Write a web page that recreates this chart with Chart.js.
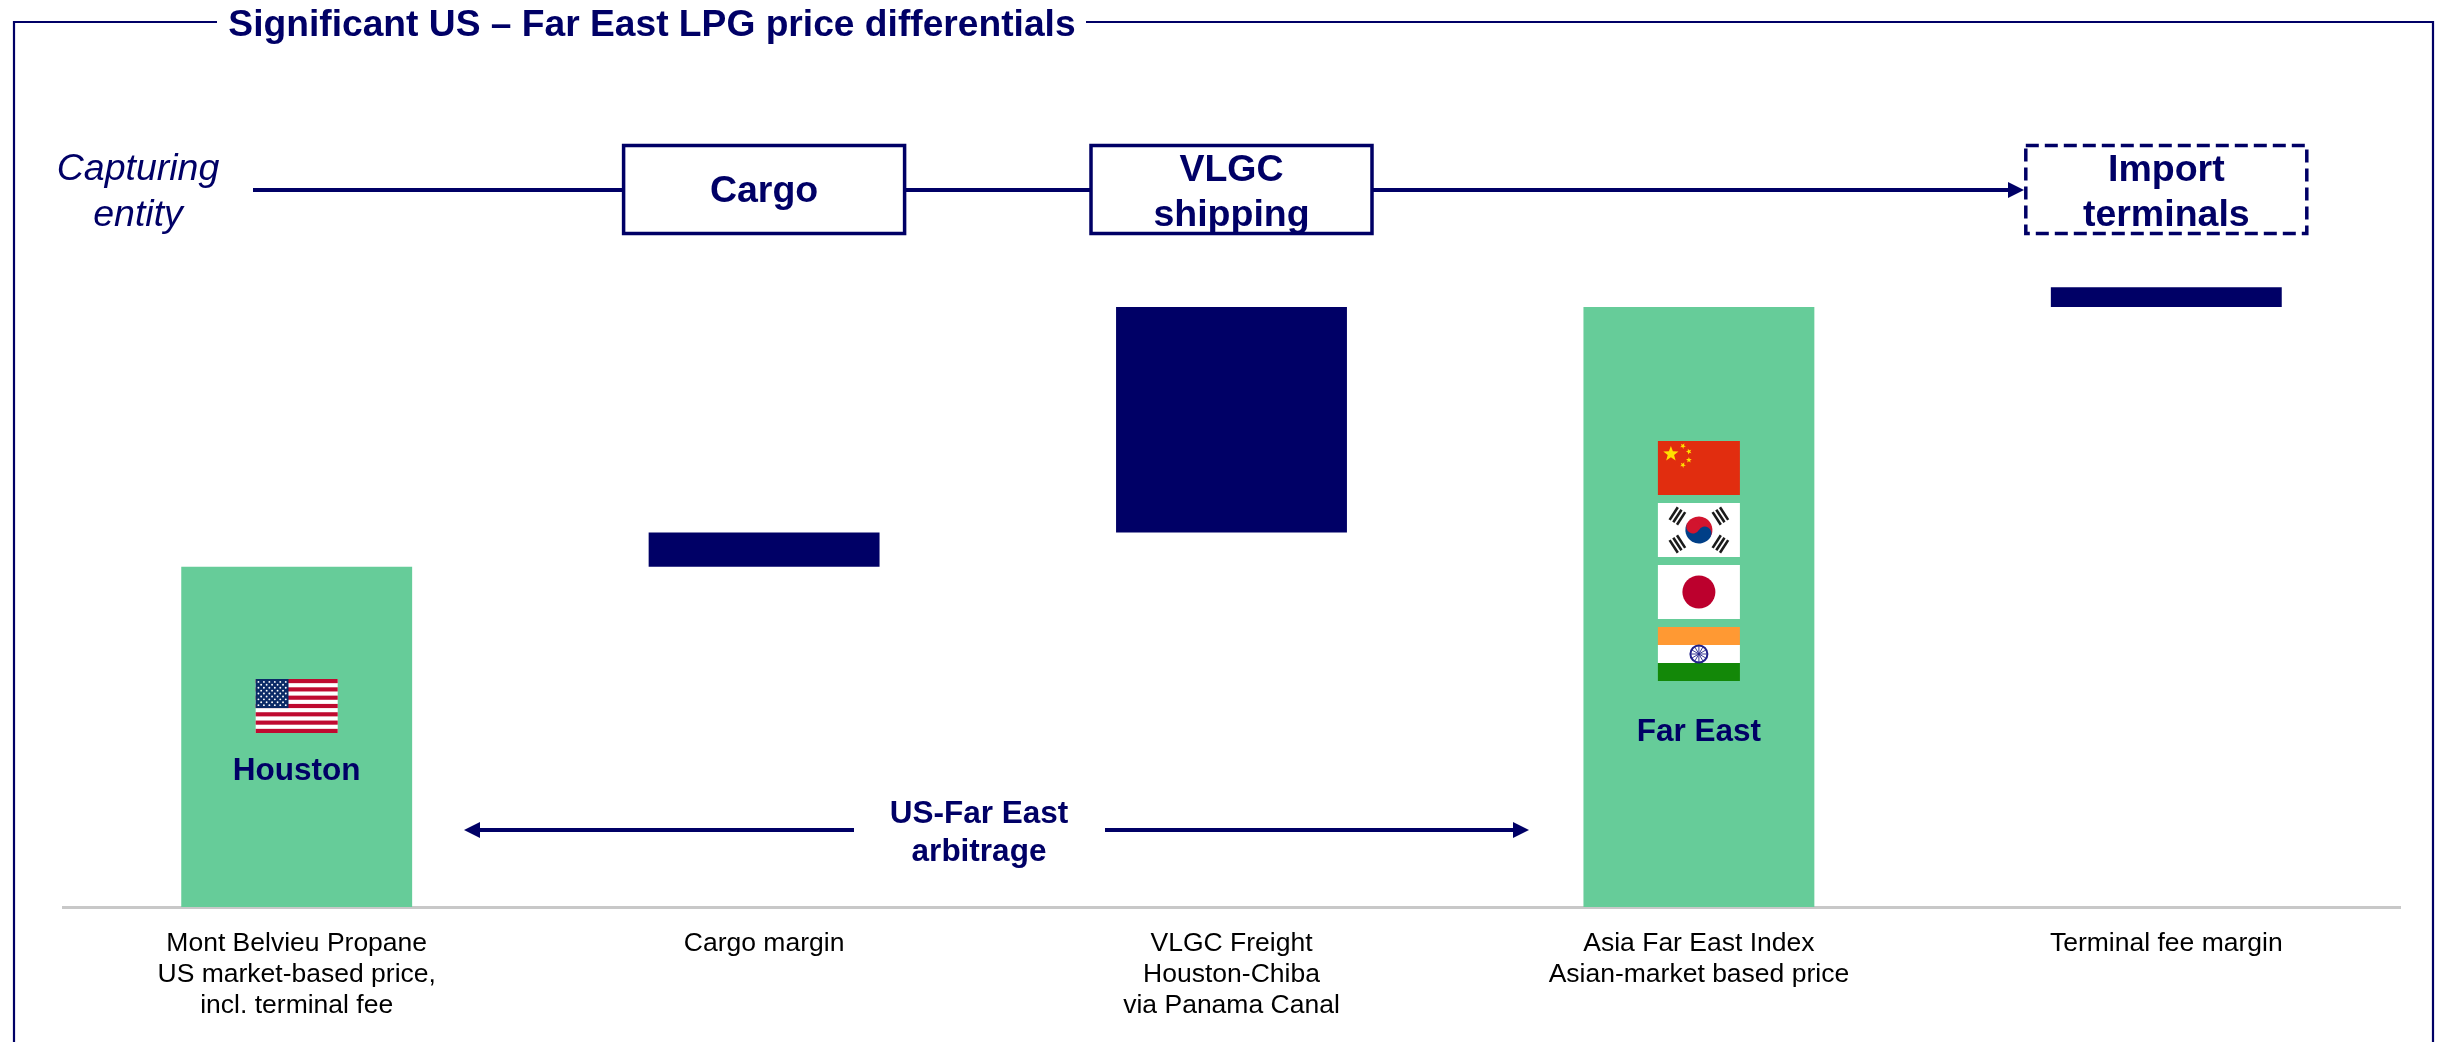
<!DOCTYPE html>
<html>
<head>
<meta charset="utf-8">
<title>Significant US – Far East LPG price differentials</title>
<script src="https://cdn.jsdelivr.net/npm/chart.js@4"></script>
<style>
  html, body { margin: 0; padding: 0; background: #fff; }
  canvas { display: block; }
</style>
</head>
<body>
<canvas id="lpgChart" width="2447" height="1042"></canvas>
<script>
// Data, indexed to Asia Far East = 100 (the source has no value axis)
const categories = [
  ['Mont Belvieu Propane', 'US market-based price,', 'incl. terminal fee'],
  ['Cargo margin'],
  ['VLGC Freight', 'Houston-Chiba', 'via Panama Canal'],
  ['Asia Far East Index', 'Asian-market based price'],
  ['Terminal fee margin']
];
const barLow = [0, 56.7, 62.4, 0, 100];
const barHigh = [56.7, 62.4, 100, 100, 103.3];

const NAVY = '#000066';
const GREEN = '#66CC99';
const FONT = '"Liberation Sans", Arial, sans-serif';

function label(ctx, text, x, y, font, color) {
  ctx.font = font + ' ' + FONT;
  ctx.fillStyle = color || NAVY;
  ctx.textAlign = 'center';
  ctx.textBaseline = 'alphabetic';
  ctx.fillText(text, x, y);
}

function hline(ctx, x1, x2, y, width) {
  ctx.strokeStyle = NAVY;
  ctx.lineWidth = width;
  ctx.setLineDash([]);
  ctx.beginPath();
  ctx.moveTo(x1, y);
  ctx.lineTo(x2, y);
  ctx.stroke();
}

function arrowHead(ctx, tipX, y, dir) {
  ctx.fillStyle = NAVY;
  ctx.beginPath();
  ctx.moveTo(tipX, y);
  ctx.lineTo(tipX - dir * 16, y - 8);
  ctx.lineTo(tipX - dir * 16, y + 8);
  ctx.closePath();
  ctx.fill();
}

function box(ctx, cx, dashed) {
  const w = 281, top = 145.5, h = 88;
  ctx.strokeStyle = NAVY;
  ctx.lineWidth = 3.5;
  ctx.setLineDash(dashed ? [13, 6] : []);
  ctx.fillStyle = '#fff';
  ctx.beginPath();
  ctx.rect(cx - w / 2, top, w, h);
  if (!dashed) ctx.fill();
  ctx.stroke();
  ctx.setLineDash([]);
}

function star(ctx, x, y, r, rot) {
  ctx.beginPath();
  for (let i = 0; i < 10; i++) {
    const a = rot - Math.PI / 2 + i * Math.PI / 5;
    const rr = i % 2 ? r * 0.42 : r;
    ctx.lineTo(x + rr * Math.cos(a), y + rr * Math.sin(a));
  }
  ctx.closePath();
  ctx.fill();
}

// Flags
function flagUS(ctx, x, y, w, h) {
  const sh = h / 13;
  ctx.fillStyle = '#fff';
  ctx.fillRect(x, y, w, h);
  ctx.fillStyle = '#BF0A30';
  for (let i = 0; i < 13; i += 2) ctx.fillRect(x, y + i * sh, w, sh);
  const cw = w * 0.4, ch = sh * 7;
  ctx.fillStyle = '#0A2A66';
  ctx.fillRect(x, y, cw, ch);
  ctx.fillStyle = '#fff';
  for (let r = 0; r < 9; r++) {
    const n = r % 2 ? 5 : 6;
    for (let c = 0; c < n; c++) {
      const sx = x + cw * ((r % 2 ? 2 : 1) + c * 2) / 12;
      const sy = y + ch * (r + 1) / 10;
      ctx.beginPath();
      ctx.arc(sx, sy, 0.95, 0, Math.PI * 2);
      ctx.fill();
    }
  }
}

function flagChina(ctx, x, y, w, h) {
  ctx.fillStyle = '#E12D0F';
  ctx.fillRect(x, y, w, h);
  ctx.fillStyle = '#FFE000';
  star(ctx, x + 13, y + 13, 8, 0);
  star(ctx, x + 25, y + 5, 3, 0.5);
  star(ctx, x + 31, y + 10.5, 3, 0.9);
  star(ctx, x + 31, y + 19, 3, 0);
  star(ctx, x + 25, y + 24, 3, 0.5);
}

function flagKorea(ctx, x, y, w, h) {
  ctx.fillStyle = '#fff';
  ctx.fillRect(x, y, w, h);
  const cx = x + w / 2, cy = y + h / 2, r = 13.5;
  ctx.save();
  ctx.translate(cx, cy);
  ctx.rotate(0.52);
  ctx.fillStyle = '#D2142E';
  ctx.beginPath();
  ctx.arc(0, 0, r, Math.PI, 0);
  ctx.fill();
  ctx.fillStyle = '#003F87';
  ctx.beginPath();
  ctx.arc(0, 0, r, 0, Math.PI);
  ctx.fill();
  ctx.beginPath();
  ctx.arc(r / 2, 0, r / 2, 0, Math.PI * 2);
  ctx.fill();
  ctx.fillStyle = '#D2142E';
  ctx.beginPath();
  ctx.arc(-r / 2, 0, r / 2, 0, Math.PI * 2);
  ctx.fill();
  ctx.restore();
  // trigrams
  ctx.fillStyle = '#1a1a1a';
  [[-1, -1], [1, -1], [-1, 1], [1, 1]].forEach(([sx, sy]) => {
    ctx.save();
    ctx.translate(cx + sx * 21.5, cy + sy * 14);
    ctx.rotate(Math.atan2(sy * 14, sx * 21.5) + Math.PI / 2);
    for (let i = -1; i <= 1; i++) ctx.fillRect(-7.5, i * 4.4 - 1.3, 15, 2.6);
    ctx.restore();
  });
}

function flagJapan(ctx, x, y, w, h) {
  ctx.fillStyle = '#fff';
  ctx.fillRect(x, y, w, h);
  ctx.fillStyle = '#BC002D';
  ctx.beginPath();
  ctx.arc(x + w / 2, y + h / 2, 16.5, 0, Math.PI * 2);
  ctx.fill();
}

function flagIndia(ctx, x, y, w, h) {
  ctx.fillStyle = '#FF9933';
  ctx.fillRect(x, y, w, h / 3);
  ctx.fillStyle = '#fff';
  ctx.fillRect(x, y + h / 3, w, h / 3);
  ctx.fillStyle = '#138808';
  ctx.fillRect(x, y + 2 * h / 3, w, h / 3);
  const cx = x + w / 2, cy = y + h / 2;
  ctx.strokeStyle = '#22228A';
  ctx.lineWidth = 2;
  ctx.beginPath();
  ctx.arc(cx, cy, 8.5, 0, Math.PI * 2);
  ctx.stroke();
  ctx.lineWidth = 0.9;
  for (let i = 0; i < 12; i++) {
    const a = i * Math.PI / 6;
    ctx.beginPath();
    ctx.moveTo(cx, cy);
    ctx.lineTo(cx + 8 * Math.cos(a), cy + 8 * Math.sin(a));
    ctx.stroke();
  }
}

// Everything around the bars: frame, title, capturing entity row, flags, arbitrage arrow
const overlay = {
  id: 'overlay',
  afterDraw(chart) {
    const ctx = chart.ctx;
    const x = chart.scales.x;
    const cat = i => x.getPixelForValue(i);
    ctx.save();

    // frame with a gap for the title
    ctx.strokeStyle = NAVY;
    ctx.lineWidth = 2.2;
    ctx.setLineDash([]);
    ctx.beginPath();
    ctx.moveTo(217, 22);
    ctx.lineTo(14, 22);
    ctx.lineTo(14, 1042);
    ctx.moveTo(1086, 22);
    ctx.lineTo(2433, 22);
    ctx.lineTo(2433, 1042);
    ctx.stroke();
    label(ctx, 'Significant US – Far East LPG price differentials', 652, 36, 'bold 37.2px');

    // capturing entity row
    label(ctx, 'Capturing', 138, 180, 'italic 37.5px');
    label(ctx, 'entity', 138, 226, 'italic 37.5px');
    hline(ctx, 253, 2010, 190, 4);
    arrowHead(ctx, 2024, 190, 1);
    box(ctx, cat(1), false);
    box(ctx, cat(2), false);
    box(ctx, cat(4), true);
    label(ctx, 'Cargo', cat(1), 202, 'bold 37.5px');
    label(ctx, 'VLGC', cat(2), 181, 'bold 37.5px');
    label(ctx, 'shipping', cat(2), 226, 'bold 37.5px');
    label(ctx, 'Import', cat(4), 181, 'bold 37.5px');
    label(ctx, 'terminals', cat(4), 226, 'bold 37.5px');

    // flags on the green bars
    const fw = 82, fh = 54;
    flagUS(ctx, cat(0) - fw / 2, 679, fw, fh);
    label(ctx, 'Houston', cat(0), 780, 'bold 31.5px');
    const fx = cat(3) - fw / 2;
    flagChina(ctx, fx, 441, fw, fh);
    flagKorea(ctx, fx, 503, fw, fh);
    flagJapan(ctx, fx, 565, fw, fh);
    flagIndia(ctx, fx, 627, fw, fh);
    label(ctx, 'Far East', cat(3), 741, 'bold 31.5px');

    // arbitrage arrow
    hline(ctx, 478, 854, 830, 4);
    arrowHead(ctx, 464, 830, -1);
    hline(ctx, 1105, 1514, 830, 4);
    arrowHead(ctx, 1529, 830, 1);
    label(ctx, 'US-Far East', 979, 823, 'bold 31.5px');
    label(ctx, 'arbitrage', 979, 861, 'bold 31.5px');

    ctx.restore();
  }
};

new Chart(document.getElementById('lpgChart'), {
  type: 'bar',
  data: {
    labels: categories,
    datasets: [{
      label: 'Price build-up',
      data: barLow.map((low, i) => [low, barHigh[i]]),
      backgroundColor: [GREEN, NAVY, NAVY, GREEN, NAVY],
      borderWidth: 0,
      barPercentage: 0.494,
      categoryPercentage: 1
    }]
  },
  options: {
    responsive: false,
    animation: false,
    layout: { padding: { left: 63, right: 47, top: 0, bottom: 0 } },
    plugins: { legend: { display: false }, tooltip: { enabled: false } },
    scales: {
      x: {
        grid: { display: false, drawTicks: false },
        border: { color: '#C8C8C8', width: 3 },
        ticks: {
          color: '#000',
          padding: 21,
          autoSkip: false,
          maxRotation: 0,
          font: { family: FONT, size: 26.5, lineHeight: 1.17 }
        },
        afterFit: axis => { axis.height = 135; }
      },
      y: { display: false, min: 0, max: 151.17 }
    }
  },
  plugins: [overlay]
});
</script>
</body>
</html>
